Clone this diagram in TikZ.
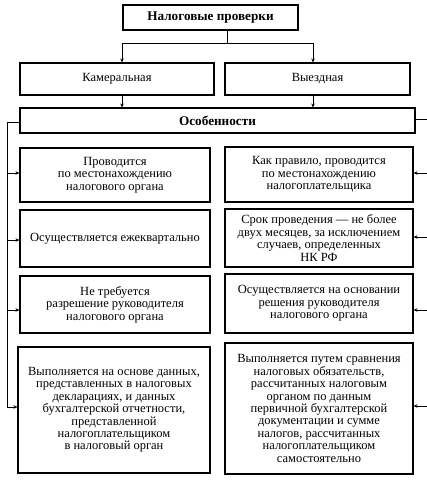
\documentclass[tikz,border=0pt]{standalone}
\usepackage{fontspec}
\setmainfont{Liberation Serif}
\usetikzlibrary{arrows.meta}
\tikzset{
  box/.style={draw, line width=1.1pt, inner sep=0pt, align=center, font=\fontsize{12.5}{12.4}\selectfont},
  boldbox/.style={box, font=\fontsize{13.2}{13.2}\selectfont\bfseries},
  conn/.style={line width=0.8pt},
  arr/.style={line width=0.8pt, -{Stealth[length=4pt,width=3.5pt]}}
}
\begin{document}
\begin{tikzpicture}[x=1pt,y=-1pt]
\useasboundingbox (0,0) rectangle (426,494);
\node[boldbox, minimum width=175pt, minimum height=25pt] (top) at (210.5,17.5) {Налоговые проверки};
\node[box, minimum width=194pt, minimum height=32pt] (kam) at (117,79) {Камеральная};
\node[box, minimum width=185pt, minimum height=32pt] (vyez) at (317.5,79) {Выездная};
\node[boldbox, minimum width=395pt, minimum height=25pt] (osob) at (217.5,120.5) {Особенности};

\node[box, minimum width=190pt, minimum height=54pt] (L1) at (115,175) {Проводится\\по местонахождению\\налогового органа};
\node[box, minimum width=190pt, minimum height=57pt] (L2) at (115,238.5) {Осуществляется ежеквартально};
\node[box, minimum width=190pt, minimum height=57pt] (L3) at (115,304.5) {Не требуется\\разрешение руководителя\\налогового органа};
\node[box, minimum width=192pt, minimum height=126pt] (L4) at (114,410) {Выполняется на основе данных,\\представленных в налоговых\\декларациях, и данных\\бухгалтерской отчетности,\\представленной\\налогоплательщиком\\в налоговый орган};

\node[box, minimum width=188pt, minimum height=55pt] (R1) at (319,174.5) {Как правило, проводится\\по местонахождению\\налогоплательщика};
\node[box, minimum width=188pt, minimum height=58pt] (R2) at (319,238) {Срок проведения~--- не более\\двух месяцев, за исключением\\случаев, определенных\\НК РФ};
\node[box, minimum width=188pt, minimum height=59pt] (R3) at (319,303.5) {Осуществляется на основании\\решения руководителя\\налогового органа};
\node[box, minimum width=188pt, minimum height=131pt] (R4) at (319,408.5) {Выполняется путем сравнения\\налоговых обязательств,\\рассчитанных налоговым\\органом по данным\\первичной бухгалтерской\\документации и сумме\\налогов, рассчитанных\\налогоплательщиком\\самостоятельно};

% top connections
\coordinate (tj) at (227,43);
\coordinate (tl) at (122,43);
\coordinate (tr) at (313,43);
\draw[conn] (top.south -| tj) -- (tj);
\draw[conn] (tl) -- (tr);
\draw[arr] (tl) -- (kam.north -| tl);
\draw[arr] (tr) -- (vyez.north -| tr);
\draw[arr] (kam.south -| tl) -- (osob.north -| tl);
\draw[arr] (vyez.south -| tr) -- (osob.north -| tr);

% left bus
\coordinate (lb0) at (7,122);
\coordinate (lb4) at (7,407);
\draw[conn] (osob.west |- lb0) -- (lb0) -- (lb4);
\coordinate (lb1) at (7,173);
\coordinate (lb2) at (7,240);
\coordinate (lb3) at (7,310);
\draw[arr] (lb1) -- (L1.west |- lb1);
\draw[arr] (lb2) -- (L2.west |- lb2);
\draw[arr] (lb3) -- (L3.west |- lb3);
\draw[arr] (lb4) -- (L4.west |- lb4);

% right bus
\coordinate (rb0) at (427,119);
\coordinate (rb4) at (427,406);
\draw[conn] (osob.east |- rb0) -- (rb0) -- (rb4);
\coordinate (rb1) at (427,173);
\coordinate (rb2) at (427,237);
\coordinate (rb3) at (427,310);
\draw[arr] (rb1) -- (R1.east |- rb1);
\draw[arr] (rb2) -- (R2.east |- rb2);
\draw[arr] (rb3) -- (R3.east |- rb3);
\draw[arr] (rb4) -- (R4.east |- rb4);
\end{tikzpicture}
\end{document}
